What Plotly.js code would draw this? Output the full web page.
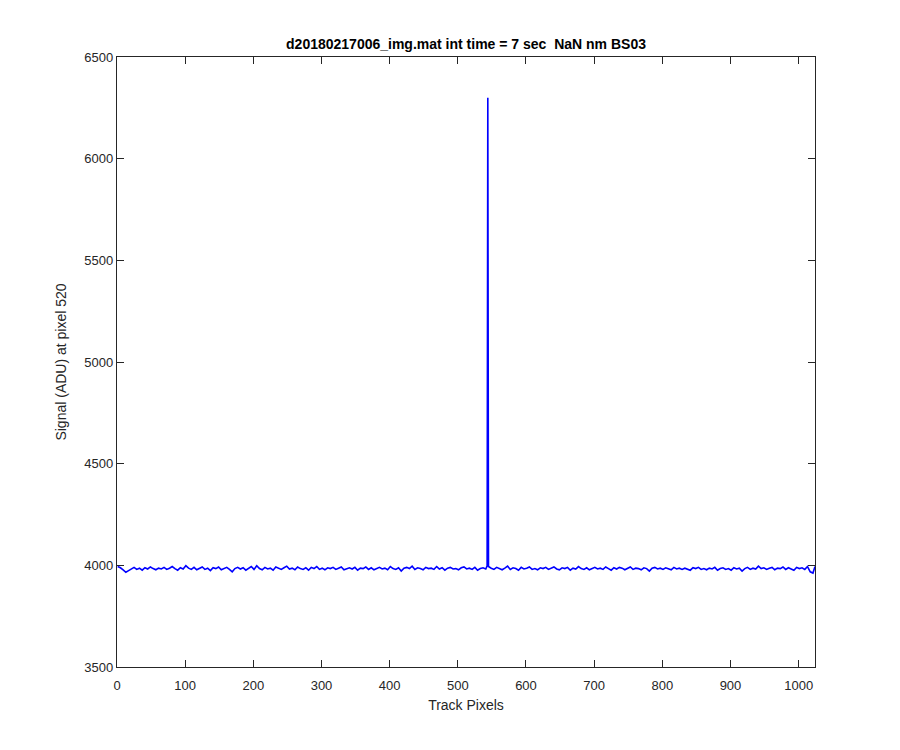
<!DOCTYPE html>
<html>
<head>
<meta charset="utf-8">
<script src="https://cdn.plot.ly/plotly-3.0.1.min.js"></script>
<style>html,body{margin:0;padding:0;background:#fff;}</style>
</head>
<body>
<div id="chart" style="width:900px;height:750px;"></div>
<script>
const sampleStart = 1;
const sampleStep = 4;
const baselineValues = [
  3994, 3988, 3978, 3966, 3974, 3984, 3990, 3980, 3986, 3976, 3988, 3982, 3992, 3984, 3978, 3986,
  3982, 3990, 3980, 3986, 3994, 3984, 3976, 3988, 3982, 3998, 3986, 3980, 3990, 3978, 3984, 3992,
  3980, 3986, 3974, 3988, 3984, 3992, 3978, 3986, 3990, 3980, 3968, 3984, 3990, 3982, 3988, 3976,
  3986, 3994, 3980, 3998, 3984, 3978, 3990, 3982, 3986, 3976, 3992, 3984, 3980, 3988, 3996, 3982,
  3986, 3978, 3992, 3984, 3980, 3988, 3976, 3990, 3984, 3994, 3980, 3986, 3978, 3988, 3984, 3990,
  3980, 3986, 3992, 3978, 3984, 3988, 3982, 3990, 3976, 3986, 3984, 3992, 3980, 3988, 3978, 3984,
  3990, 3982, 3986, 3978, 3994, 3984, 3980, 3988, 3972, 3986, 3990, 3984, 3996, 3980, 3988, 3984,
  3978, 3990, 3984, 3986, 3980, 3994, 3982, 3988, 3976, 3986, 3990, 3982, 3984, 3978, 3988, 3992,
  3982, 3986, 3980, 3990, 3976, 3984, 3988, 3982, 3994, 3986, 3980, 3990, 3984, 3978, 3986, 3996,
  3980, 3988, 3984, 3976, 3990, 3982, 3986, 3992, 3980, 3984, 3978, 3988, 3984, 3990, 3980, 3986,
  3992, 3982, 3978, 3988, 3984, 3990, 3976, 3986, 3982, 3994, 3984, 3980, 3988, 3978, 3986, 3990,
  3982, 3986, 3980, 3992, 3984, 3976, 3988, 3982, 3990, 3986, 3978, 3984, 3992, 3980, 3986, 3984,
  3978, 3988, 3984, 3972, 3986, 3990, 3982, 3986, 3980, 3988, 3984, 3978, 3990, 3982, 3986, 3980,
  3986, 3982, 3976, 3988, 3984, 3990, 3980, 3984, 3978, 3986, 3982, 3990, 3976, 3984, 3988, 3980,
  3984, 3976, 3988, 3982, 3986, 3972, 3984, 3990, 3980, 3986, 3982, 3996, 3984, 3988, 3980, 3986,
  3990, 3978, 3986, 3984, 3992, 3980, 3988, 3982, 3976, 3990, 3984, 3988, 3980, 3994, 3968, 3962
];
// Spike near pixel 544
const spikePixels = [543, 544];
const spikeValues = [3998, 6300];
// Last pixel
const endPixel = 1024;
const endValue = 3994;

const titleText = "d20180217006_img.mat int time = 7 sec  NaN nm BS03";
const xTitle = "Track Pixels";
const yTitle = "Signal (ADU) at pixel 520";
const xTicks = [0, 100, 200, 300, 400, 500, 600, 700, 800, 900, 1000];
const yTicks = [3500, 4000, 4500, 5000, 5500, 6000, 6500];

// assemble points
let pts = baselineValues.map((v, i) => ({x: sampleStart + sampleStep * i, y: v}));
spikePixels.forEach((p, i) => pts.push({x: p, y: spikeValues[i]}));
pts.push({x: endPixel, y: endValue});
pts.sort((a, b) => a.x - b.x);

const trace = {
  x: pts.map(p => p.x),
  y: pts.map(p => p.y),
  type: 'scatter',
  mode: 'lines',
  line: {color: '#0000ff', width: 1.6},
  hoverinfo: 'skip'
};

const fontFam = '"Liberation Sans", Arial, Helvetica, sans-serif';
const axCol = '#262626';

const layout = {
  width: 900, height: 750,
  paper_bgcolor: '#ffffff', plot_bgcolor: '#ffffff',
  margin: {l: 117, r: 85, t: 57, b: 83},
  showlegend: false,
  font: {family: fontFam, size: 13, color: axCol},
  title: {
    text: '<b>' + titleText + '</b>',
    font: {family: fontFam, size: 14, color: '#000000'},
    x: 0.5, xref: 'paper', xanchor: 'center',
    y: 1 - 44 / 750, yref: 'container', yanchor: 'middle'
  },
  xaxis: {
    range: [0, 1024],
    tickvals: xTicks,
    ticktext: xTicks.map(String),
    ticks: 'inside', ticklen: 7, tickwidth: 1, tickcolor: axCol,
    showline: true, linecolor: axCol, linewidth: 1.2, mirror: 'ticks',
    showgrid: false, zeroline: false,
    ticklabelstandoff: 6,
    tickfont: {family: fontFam, size: 13, color: axCol},
    title: {text: xTitle, font: {family: fontFam, size: 14, color: axCol}, standoff: 8}
  },
  yaxis: {
    range: [3500, 6500],
    tickvals: yTicks,
    ticktext: yTicks.map(String),
    ticks: 'inside', ticklen: 7, tickwidth: 1, tickcolor: axCol,
    showline: true, linecolor: axCol, linewidth: 1.2, mirror: 'ticks',
    showgrid: false, zeroline: false,
    tickfont: {family: fontFam, size: 13, color: axCol},
    title: {text: yTitle, font: {family: fontFam, size: 14, color: axCol}, standoff: 14}
  }
};

Plotly.newPlot('chart', [trace], layout, {displayModeBar: false, staticPlot: true});
</script>
</body>
</html>
